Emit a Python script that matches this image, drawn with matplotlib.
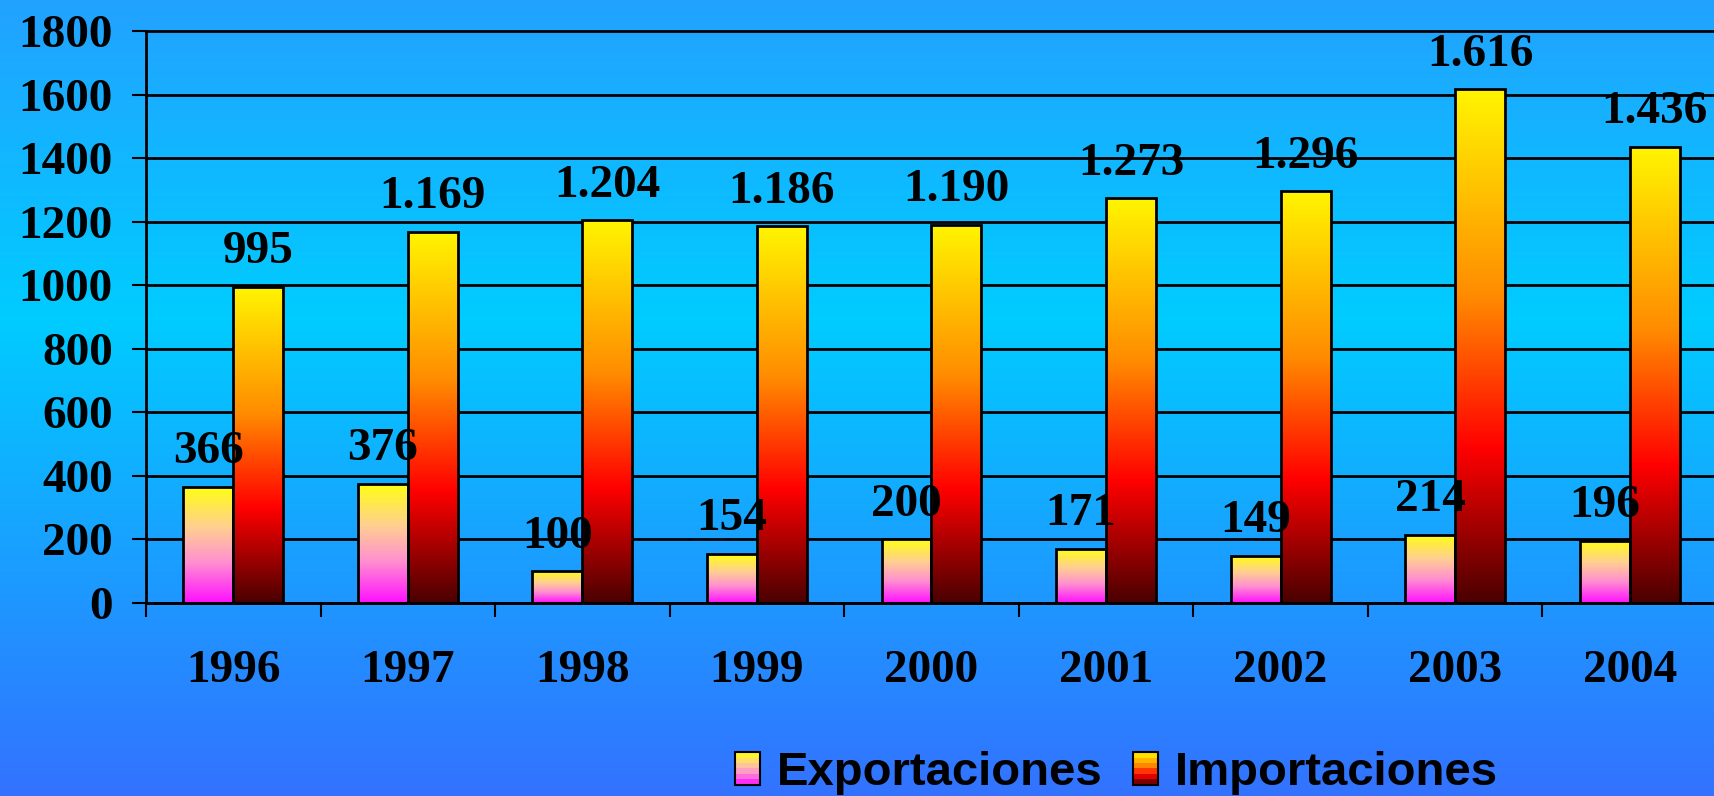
import numpy as np
import matplotlib
matplotlib.use("Agg")
import matplotlib.pyplot as plt
from matplotlib.colors import LinearSegmentedColormap
from matplotlib.legend_handler import HandlerBase
from matplotlib.patches import Rectangle

# data
years = ['1996', '1997', '1998', '1999', '2000', '2001', '2002', '2003', '2004']
exportaciones = [366, 376, 100, 154, 200, 171, 149, 214, 196]
importaciones = [995, 1169, 1204, 1186, 1190, 1273, 1296, 1616, 1436]
y_ticks = [0, 200, 400, 600, 800, 1000, 1200, 1400, 1600, 1800]

# gradients (bottom -> top)
exp_cmap = LinearSegmentedColormap.from_list(
    'exp', [(0, '#ff10ff'), (0.35, '#ff90d0'), (0.65, '#ffd090'), (1, '#ffff10')])
imp_cmap = LinearSegmentedColormap.from_list(
    'imp', [(0, '#4a0000'), (0.3, '#ff0000'), (0.6, '#ff8c00'), (1, '#fff500')])
bg_cmap = LinearSegmentedColormap.from_list(
    'bg', [(0, '#3372ff'), (0.6, '#00ccff'), (1, '#22a2ff')])

serif = 'Liberation Serif'
sans = 'Liberation Sans'

fig = plt.figure(figsize=(17.15, 7.96), dpi=100)

# background gradient over the whole figure
bg = fig.add_axes([0, 0, 1, 1], zorder=-10)
bg.imshow(np.linspace(0, 1, 256).reshape(-1, 1), cmap=bg_cmap, aspect='auto',
          origin='lower', extent=[0, 1, 0, 1])
bg.axis('off')

ax = fig.add_axes([146 / 1715, 1 - 603 / 796, 1571 / 1715, 572 / 796])
ax.patch.set_alpha(0)

x = np.arange(len(years))
w = 0.286


def gradient_bars(xpos, values, cmap):
    bars = ax.bar(xpos, values, w, facecolor='none', edgecolor='black',
                  linewidth=2, zorder=3)
    grad = np.linspace(0, 1, 256).reshape(-1, 1)
    for b in bars:
        x0 = b.get_x()
        h = b.get_height()
        im = ax.imshow(grad, cmap=cmap, aspect='auto', origin='lower',
                       extent=[x0, x0 + w, 0, h], zorder=2)
        im.set_clip_path(b)
    return bars


gradient_bars(x - w / 2, exportaciones, exp_cmap)
gradient_bars(x + w / 2, importaciones, imp_cmap)

ax.set_xlim(-0.5, len(years) - 0.5)
ax.set_ylim(0, 1800)

# value labels
for xi, v in zip(x - w / 2, exportaciones):
    ax.annotate(f"{v:,}".replace(",", "."), (xi, v), xytext=(0, 17),
                textcoords='offset points', ha='center', va='baseline',
                fontsize=34, fontweight='bold', family=serif, zorder=5)
for xi, v in zip(x + w / 2, importaciones):
    ax.annotate(f"{v:,}".replace(",", "."), (xi, v), xytext=(0, 17),
                textcoords='offset points', ha='center', va='baseline',
                fontsize=34, fontweight='bold', family=serif, zorder=5,
                annotation_clip=False)

# grid lines
for t in y_ticks:
    ax.axhline(t, color='black', linewidth=2, zorder=1, clip_on=False)

ax.set_yticks(y_ticks)
ax.set_yticklabels([str(t) for t in y_ticks], fontsize=34, fontweight='bold',
                   family=serif)
ax.tick_params(axis='y', length=10, width=1.5, pad=14)

ax.set_xticks(x)
ax.set_xticklabels(years, fontsize=34, fontweight='bold', family=serif)
ax.tick_params(axis='x', which='major', length=0, pad=34)
ax.set_xticks(np.arange(-0.5, len(years)), minor=True)
ax.tick_params(axis='x', which='minor', length=10, width=1.5)

for s in ['top', 'right']:
    ax.spines[s].set_visible(False)
ax.spines['left'].set_linewidth(2)
ax.spines['bottom'].set_linewidth(2)


class GradientHandler(HandlerBase):
    def __init__(self, cmap):
        super().__init__()
        self.cmap = cmap

    def create_artists(self, legend, orig_handle, xdescent, ydescent,
                       width, height, fontsize, trans):
        n = 6
        artists = []
        for i in range(n):
            r = Rectangle((-xdescent, -ydescent + i * height / n), width,
                          height / n, facecolor=self.cmap((i + 0.5) / n),
                          edgecolor='none', transform=trans)
            artists.append(r)
        artists.append(Rectangle((-xdescent, -ydescent), width, height,
                                 facecolor='none', edgecolor='black',
                                 linewidth=1.5, transform=trans))
        return artists


h_exp = Rectangle((0, 0), 1, 1)
h_imp = Rectangle((0, 0), 1, 1)
fig.legend([h_exp, h_imp], ['Exportaciones', 'Importaciones'],
           handler_map={h_exp: GradientHandler(exp_cmap),
                        h_imp: GradientHandler(imp_cmap)},
           loc='center', bbox_to_anchor=(0.651, 0.029), ncol=2, frameon=False,
           prop={'family': sans, 'weight': 'bold', 'size': 34},
           handlelength=0.53, handleheight=0.68, handletextpad=0.34,
           columnspacing=0.66, borderpad=0, borderaxespad=0)

fig.savefig('out.png', dpi=100)
